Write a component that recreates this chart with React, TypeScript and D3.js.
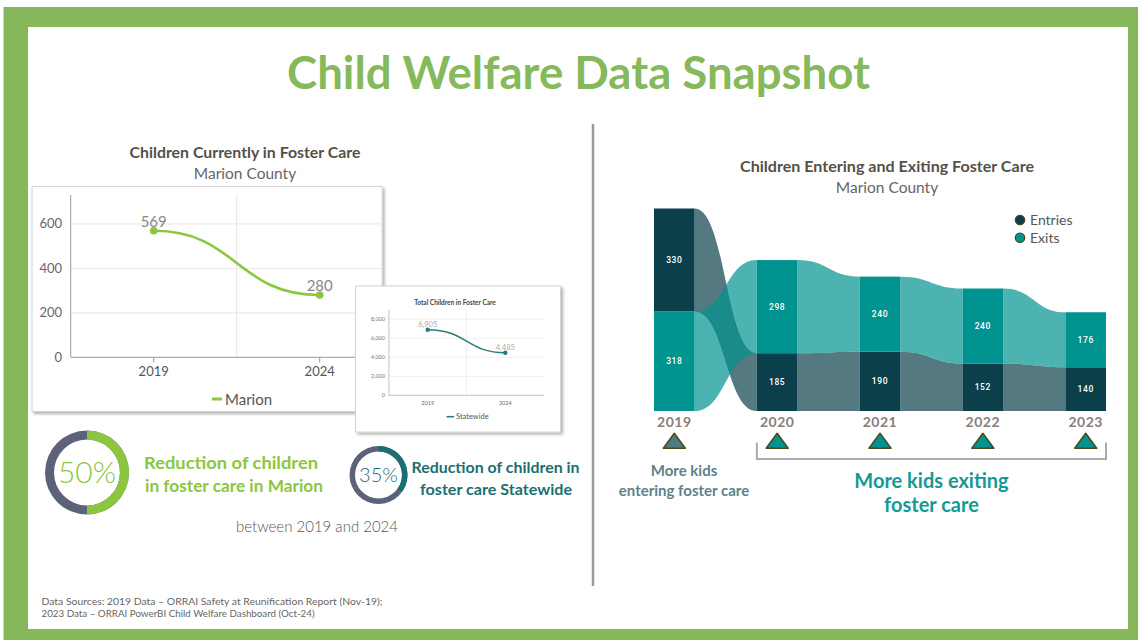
import React from 'react';
import * as d3 from 'd3';

const W = 1138;
const H = 640;

// Children currently in foster care (Marion)
const marionYears = ['2019', '2024'];
const marionValues = [569, 280];
const marionTicks = [0, 200, 400, 600];

// Total children in foster care (Statewide inset)
const stateYears = ['2019', '2024'];
const stateValues = [6905, 4485];
const stateTicks = [0, 2000, 4000, 6000, 8000];

// Entering / exiting foster care (Marion)
const flowYears = ['2019', '2020', '2021', '2022', '2023'];
const entries = [330, 185, 190, 152, 140];
const exits = [318, 298, 240, 240, 176];
const entriesOnTop = [true, false, false, false, false];

// reduction rings
const marionReduction = 0.5;
const stateReduction = 0.35;

const FRAME = '#87b75b';
const TITLE_GREEN = '#86b95b';
const LIME = '#8cc63f';
const SLATE = '#5c6279';
const TEAL_TXT = '#1b6f70';
const ENTRY = '#0b404b';
const EXIT = '#00938f';
const FONT = "Lato, 'Open Sans', sans-serif";

const MarionChart = () => {
  const x = d3.scaleBand().domain(marionYears).range([70.7, 402.7]);
  const cx = (d: string) => (x(d) as number) + x.bandwidth() / 2;
  const y = d3.scaleLinear().domain([0, 730]).range([357.3, 195]);
  const line = d3.line<number>()
    .x((d, i) => cx(marionYears[i]))
    .y(d => y(d))
    .curve(d3.curveBumpX);

  return (
    <g>
      <rect x={32} y={186.5} width={350} height={225} fill="#fff" stroke="#d4d4d4" filter="url(#shadow)" />
      {marionTicks.filter(t => t > 0).map(t => (
        <line key={t} x1={70.7} x2={381} y1={y(t)} y2={y(t)} stroke="#e6e6e6" />
      ))}
      <line x1={x('2024')} x2={x('2024')} y1={195} y2={y(0)} stroke="#e6e6e6" />
      <line x1={70.7} x2={70.7} y1={195} y2={y(0)} stroke="#999" />
      <line x1={70.7} x2={381} y1={y(0)} y2={y(0)} stroke="#999" />
      {marionTicks.map(t => (
        <text key={t} x={62} y={y(t) + 4.5} textAnchor="end" fontSize={13} fill="#666">{t}</text>
      ))}
      {marionYears.map(d => (
        <g key={d}>
          <line x1={cx(d)} x2={cx(d)} y1={y(0)} y2={y(0) + 5} stroke="#999" />
          <text x={cx(d)} y={376} textAnchor="middle" fontSize={13} fill="#555">{d}</text>
        </g>
      ))}
      <path d={line(marionValues) || ''} fill="none" stroke={LIME} strokeWidth={2.6} />
      {marionValues.map((v, i) => (
        <g key={i}>
          <circle cx={cx(marionYears[i])} cy={y(v)} r={3.8} fill={LIME} />
          <text x={cx(marionYears[i])} y={y(v) - 4} textAnchor="middle" fontSize={15} fill="#888">{v}</text>
        </g>
      ))}
      <line x1={212} x2={222} y1={399} y2={399} stroke={LIME} strokeWidth={3} />
      <text x={225} y={404.5} fontSize={15} fill="#555">Marion</text>
    </g>
  );
};

const StateChart = () => {
  const x = d3.scaleBand().domain(stateYears).range([388.9, 544.1]);
  const cx = (d: string) => (x(d) as number) + x.bandwidth() / 2;
  const y = d3.scaleLinear().domain([0, 9000]).range([395.3, 309.8]);
  const line = d3.line<number>()
    .x((d, i) => cx(stateYears[i]))
    .y(d => y(d))
    .curve(d3.curveBumpX);
  const fmt = d3.format(',');

  return (
    <g>
      <rect x={355.5} y={286} width={205} height={146} fill="#fff" stroke="#d4d4d4" filter="url(#shadow)" />
      <text x={455} y={305} textAnchor="middle" fontSize={6.5} fontWeight={700} fill="#444">Total Children in Foster Care</text>
      {stateTicks.filter(t => t > 0).map(t => (
        <line key={t} x1={388.9} x2={544.1} y1={y(t)} y2={y(t)} stroke="#e8e8e8" strokeWidth={0.7} />
      ))}
      <line x1={x('2024')} x2={x('2024')} y1={309.8} y2={y(0)} stroke="#e8e8e8" strokeWidth={0.7} />
      <line x1={388.9} x2={388.9} y1={309.8} y2={y(0)} stroke="#aaa" strokeWidth={0.7} />
      <line x1={388.9} x2={544.1} y1={y(0)} y2={y(0)} stroke="#aaa" strokeWidth={0.7} />
      {stateTicks.map(t => (
        <text key={t} x={385} y={y(t) + 2} textAnchor="end" fontSize={5.5} fill="#777">{fmt(t)}</text>
      ))}
      {stateYears.map(d => (
        <text key={d} x={cx(d)} y={405} textAnchor="middle" fontSize={5.5} fill="#666">{d}</text>
      ))}
      <path d={line(stateValues) || ''} fill="none" stroke="#2a7c7c" strokeWidth={1.5} />
      {stateValues.map((v, i) => (
        <g key={i}>
          <circle cx={cx(stateYears[i])} cy={y(v)} r={2.2} fill="#2a7c7c" />
          <text x={cx(stateYears[i])} y={y(v) - 2.5} textAnchor="middle" fontSize={7.5} fill="#aaa">{fmt(v)}</text>
        </g>
      ))}
      <line x1={446.5} x2={454} y1={416.7} y2={416.7} stroke="#2a7c7c" strokeWidth={1.6} />
      <text x={456} y={419.4} fontSize={7.5} fill="#555">Statewide</text>
    </g>
  );
};

const Ring = ({ cx, cy, r, w, p, color, label, fontSize }: any) => {
  const bg = d3.arc()({ innerRadius: r - w, outerRadius: r, startAngle: 0, endAngle: Math.PI * 2 } as any);
  const fg = d3.arc()({ innerRadius: r - w, outerRadius: r, startAngle: 0, endAngle: Math.PI * 2 * p } as any);
  return (
    <g transform={`translate(${cx},${cy})`}>
      <path d={bg || ''} fill={SLATE} />
      <path d={fg || ''} fill={color} />
      <text y={fontSize * 0.36} textAnchor="middle" fontSize={fontSize} fontWeight={300} fill={color}>{label}</text>
    </g>
  );
};

const FlowChart = () => {
  const x = d3.scaleBand().domain(flowYears).range([654, 1106]).paddingInner(0.605).paddingOuter(0);
  const bw = x.bandwidth();
  const y = d3.scaleLinear().domain([0, 648]).range([411, 208.5]);

  const segs = flowYears.map((yr, i) => {
    const e = entries[i];
    const x0 = exits[i];
    return entriesOnTop[i]
      ? { yr, entries: [x0, x0 + e], exits: [0, x0] }
      : { yr, entries: [0, e], exits: [e, e + x0] };
  });

  const area = d3.area<{ x: number; lo: number; hi: number }>()
    .x(d => d.x)
    .y0(d => y(d.lo))
    .y1(d => y(d.hi))
    .curve(d3.curveBumpX);

  const links = (key: 'entries' | 'exits') =>
    segs.slice(0, -1).map((s, i) => {
      const n = segs[i + 1];
      return area([
        { x: (x(s.yr) as number) + bw, lo: s[key][0], hi: s[key][1] },
        { x: x(n.yr) as number, lo: n[key][0], hi: n[key][1] },
      ]) || '';
    });

  return (
    <g>
      <text x={887} y={172} textAnchor="middle" fontSize={15} fontWeight={700} fill="#555049" textLength={294} lengthAdjust="spacingAndGlyphs">Children Entering and Exiting Foster Care</text>
      <text x={887} y={192.5} textAnchor="middle" fontSize={15.5} fill="#666">Marion County</text>

      {links('entries').map((d, i) => <path key={'e' + i} d={d} fill={ENTRY} fillOpacity={0.7} />)}
      {links('exits').map((d, i) => <path key={'x' + i} d={d} fill={EXIT} fillOpacity={0.7} />)}

      {segs.map((s, i) => (
        <g key={s.yr}>
          <rect x={x(s.yr)} width={bw} y={y(s.entries[1])} height={y(s.entries[0]) - y(s.entries[1])} fill={ENTRY} />
          <rect x={x(s.yr)} width={bw} y={y(s.exits[1])} height={y(s.exits[0]) - y(s.exits[1])} fill={EXIT} />
          <text x={(x(s.yr) as number) + bw / 2} y={y((s.entries[0] + s.entries[1]) / 2) + 3} textAnchor="middle" fontSize={8.5} fontWeight={500} fill="#fff" fontFamily="Roboto, sans-serif" letterSpacing={0.6}>{entries[i]}</text>
          <text x={(x(s.yr) as number) + bw / 2} y={y((s.exits[0] + s.exits[1]) / 2) + 3} textAnchor="middle" fontSize={8.5} fontWeight={500} fill="#fff" fontFamily="Roboto, sans-serif" letterSpacing={0.6}>{exits[i]}</text>
          <text x={(x(s.yr) as number) + bw / 2} y={427} textAnchor="middle" fontSize={14} fontWeight={700} fill="#8a7d7d" letterSpacing={0.5}>{s.yr}</text>
        </g>
      ))}

      {flowYears.map((yr, i) => {
        const c = (x(yr) as number) + bw / 2;
        return (
          <path key={yr} d={`M${c - 11},448.3L${c},433.3L${c + 11},448.3Z`}
            fill={i === 0 ? '#4e7b82' : EXIT} stroke="#4a4a1e" strokeWidth={1.5} strokeLinejoin="round" />
        );
      })}

      <path d={`M${x('2020')},442.5V459H${(x('2023') as number) + bw}V442.5`} fill="none" stroke="#aaa" strokeWidth={2} />

      <circle cx={1020} cy={220} r={4.7} fill={ENTRY} stroke="#46461e" strokeWidth={1.2} />
      <circle cx={1020} cy={237.7} r={4.7} fill={EXIT} stroke="#46461e" strokeWidth={1.2} />
      <text x={1030} y={225} fontSize={14} fill="#555">Entries</text>
      <text x={1030} y={242.5} fontSize={14} fill="#555">Exits</text>

      <text x={684} y={475.5} textAnchor="middle" fontSize={15} fontWeight={700} fill="#5c828a">More kids</text>
      <text x={684} y={495.5} textAnchor="middle" fontSize={15} fontWeight={700} fill="#5c828a">entering foster care</text>
      <text x={931.5} y={487.5} textAnchor="middle" fontSize={20} fontWeight={700} fill="#149a95">More kids exiting</text>
      <text x={931.5} y={512} textAnchor="middle" fontSize={20} fontWeight={700} fill="#149a95">foster care</text>
    </g>
  );
};

export default function App() {
  return (
    <svg width={W} height={H} viewBox={`0 0 ${W} ${H}`} fontFamily={FONT}
      style={{ position: 'absolute', left: 0, top: 0, display: 'block' }}>
      <defs>
        <filter id="shadow" x="-10%" y="-10%" width="125%" height="125%">
          <feDropShadow dx={2} dy={2} stdDeviation={1.8} floodColor="#000" floodOpacity={0.3} />
        </filter>
      </defs>
      <rect width={W} height={H} fill="#fff" />
      <rect x={3.5} y={7} width={W - 3.5} height={H - 7} fill={FRAME} />
      <rect x={28} y={27} width={1100} height={602} fill="#fff" />

      <text x={578.5} y={88.5} textAnchor="middle" fontSize={45} fontWeight={700} fill={TITLE_GREEN} textLength={583} lengthAdjust="spacingAndGlyphs">Child Welfare Data Snapshot</text>

      <line x1={593} x2={593} y1={124} y2={586} stroke="#9a9a9a" strokeWidth={2.5} />

      <text x={245} y={158} textAnchor="middle" fontSize={15} fontWeight={700} fill="#555049" textLength={231} lengthAdjust="spacingAndGlyphs">Children Currently in Foster Care</text>
      <text x={245} y={178.5} textAnchor="middle" fontSize={15.5} fill="#666">Marion County</text>

      <MarionChart />
      <StateChart />

      <Ring cx={87} cy={472.5} r={42} w={9} p={marionReduction} color={LIME} label="50%" fontSize={30} />
      <text x={231} y={469} textAnchor="middle" fontSize={17.5} fontWeight={700} fill={LIME} textLength={174} lengthAdjust="spacingAndGlyphs">Reduction of children</text>
      <text x={234} y={492} textAnchor="middle" fontSize={17.5} fontWeight={700} fill={LIME} textLength={178} lengthAdjust="spacingAndGlyphs">in foster care in Marion</text>

      <Ring cx={378.5} cy={475} r={29} w={5.5} p={stateReduction} color={TEAL_TXT} label="35%" fontSize={20} />
      <text x={495.5} y={473} textAnchor="middle" fontSize={16} fontWeight={700} fill={TEAL_TXT} textLength={168} lengthAdjust="spacingAndGlyphs">Reduction of children in</text>
      <text x={496} y={494.5} textAnchor="middle" fontSize={16} fontWeight={700} fill={TEAL_TXT} textLength={152} lengthAdjust="spacingAndGlyphs">foster care Statewide</text>

      <text x={317} y={532} textAnchor="middle" fontSize={15} fontWeight={300} fill="#555">between 2019 and 2024</text>

      <FlowChart />

      <text x={41.5} y={605} fontSize={10} fill="#666" textLength={341} lengthAdjust="spacingAndGlyphs">Data Sources: 2019 Data – ORRAI Safety at Reunification Report (Nov-19);</text>
      <text x={41.5} y={616.5} fontSize={10} fill="#666" textLength={273} lengthAdjust="spacingAndGlyphs">2023 Data – ORRAI PowerBI Child Welfare Dashboard (Oct-24)</text>
    </svg>
  );
}
